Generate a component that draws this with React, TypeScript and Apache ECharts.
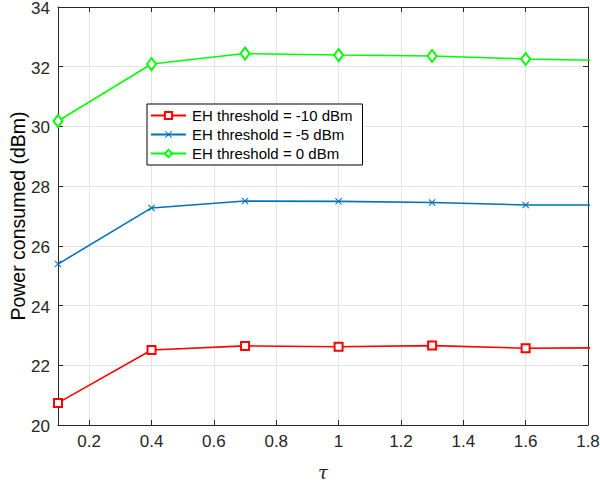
import React, { useEffect, useRef } from "react";
import * as echarts from "echarts";

const tau = [0.1, 0.4, 0.7, 1.0, 1.3, 1.6, 1.9];
const redVals = [20.74, 22.51, 22.65, 22.62, 22.66, 22.57, 22.59];
const blueVals = [25.39, 27.27, 27.5, 27.49, 27.45, 27.37, 27.37];
const greenVals = [30.18, 32.09, 32.44, 32.39, 32.36, 32.26, 32.2];
const seriesNames = ["EH threshold = -10 dBm", "EH threshold = -5 dBm", "EH threshold = 0 dBm"];

const axisColor = "#262626";
const gridColor = "#e3e3e3";
const xPath = "path://M1,0 L5,4 L9,0 L10,1 L6,5 L10,9 L9,10 L5,6 L1,10 L0,9 L4,5 L0,1 Z";

export default function App() {
  const ref = useRef<HTMLDivElement>(null);
  useEffect(() => {
    const chart = echarts.init(ref.current!, null, { renderer: "svg" });
    const pairs = (vals: number[]) => tau.map((t, i) => [t, vals[i]]);
    const baseX = {
      type: "value",
      min: 0.1,
      max: 1.8,
      minInterval: 0.2,
      maxInterval: 0.2,
    };
    const baseY = { type: "value", min: 20, max: 34, interval: 2 };
    chart.setOption({
      animation: false,
      backgroundColor: "#ffffff",
      textStyle: { fontFamily: "Liberation Sans, Arial, sans-serif" },
      grid: { left: 58, right: 12, top: 7, bottom: 57, containLabel: false, outerBoundsMode: "none" },
      legend: {
        data: seriesNames,
        orient: "vertical",
        left: 147,
        top: 104,
        backgroundColor: "#ffffff",
        borderColor: "#000000",
        borderWidth: 1,
        borderRadius: 0,
        padding: [4, 10, 4, 3],
        itemGap: 4,
        itemWidth: 35,
        itemHeight: 9,
        textStyle: { fontSize: 15, color: "#000000", padding: [0, 0, 0, 1] },
      },
      xAxis: [
        {
          ...baseX,
          position: "bottom",
          name: "τ",
          nameLocation: "middle",
          nameGap: 38,
          nameMoveOverlap: false,
          nameTextStyle: { fontSize: 18, fontStyle: "italic", fontFamily: "DejaVu Serif, serif", color: axisColor },
          axisLine: { lineStyle: { color: axisColor, width: 1 } },
          axisTick: { inside: true, length: 5, lineStyle: { color: axisColor } },
          axisLabel: { showMinLabel: false, color: axisColor, fontSize: 17, margin: 8 },
          splitLine: { show: true, lineStyle: { color: gridColor, width: 1 } },
        },
        {
          ...baseX,
          position: "top",
          axisLine: { lineStyle: { color: axisColor, width: 1 } },
          axisTick: { inside: true, length: 5, lineStyle: { color: axisColor } },
          axisLabel: { show: false },
          splitLine: { show: false },
        },
      ],
      yAxis: [
        {
          ...baseY,
          position: "left",
          name: "Power consumed (dBm)",
          nameLocation: "middle",
          nameGap: 30,
          nameMoveOverlap: false,
          nameTextStyle: { fontSize: 19.5, color: "#000000" },
          axisLine: { show: true, lineStyle: { color: axisColor, width: 1 } },
          axisTick: { show: true, inside: true, length: 5, lineStyle: { color: axisColor } },
          axisLabel: {
            margin: 8,
            formatter: (v: number) => `{t|${v}}`,
            rich: { t: { color: axisColor, fontSize: 17, lineHeight: 17, padding: [3, 0, 0, 0] } },
          },
          splitLine: { show: true, lineStyle: { color: gridColor, width: 1 } },
        },
        {
          ...baseY,
          position: "right",
          axisLine: { show: true, lineStyle: { color: axisColor, width: 1 } },
          axisTick: { show: true, inside: true, length: 5, lineStyle: { color: axisColor } },
          axisLabel: { show: false },
          splitLine: { show: false },
        },
      ],
      series: [
        {
          name: seriesNames[0],
          type: "line",
          data: pairs(redVals),
          xAxisIndex: 0,
          yAxisIndex: 0,
          clip: true,
          symbol: "emptyRect",
          symbolSize: 8,
          color: "#ff0000",
          lineStyle: { width: 1.6, color: "#ff0000" },
          itemStyle: { color: "#ff0000", borderColor: "#ff0000", borderWidth: 1.4 },
        },
        {
          name: seriesNames[1],
          type: "line",
          data: pairs(blueVals),
          xAxisIndex: 0,
          yAxisIndex: 0,
          clip: true,
          symbol: xPath,
          symbolSize: 7,
          color: "#0072bd",
          lineStyle: { width: 1.6, color: "#0072bd" },
          itemStyle: { color: "#0072bd" },
        },
        {
          name: seriesNames[2],
          type: "line",
          data: pairs(greenVals),
          xAxisIndex: 0,
          yAxisIndex: 0,
          clip: true,
          symbol: "emptyDiamond",
          symbolSize: [9, 12],
          color: "#00ff00",
          lineStyle: { width: 1.6, color: "#00ff00" },
          itemStyle: { color: "#00ff00", borderColor: "#00ff00", borderWidth: 1.4 },
        },
      ],
    });
    return () => chart.dispose();
  }, []);
  return (
    <div
      ref={ref}
      style={{ position: "fixed", left: 0, top: 0, width: 600, height: 482, background: "#fff" }}
    />
  );
}
